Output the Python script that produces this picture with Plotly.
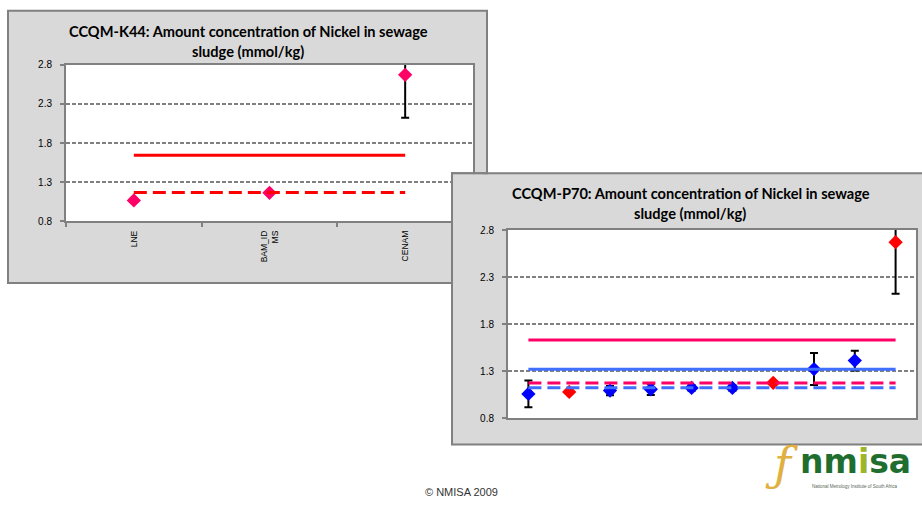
import plotly.graph_objects as go

# ---------------- data ----------------
# CCQM-K44 (left chart)
k44_labs = ["LNE", "BAM_ID<br>MS", "CENAM"]
k44_vals = [1.067, 1.163, 2.671]
k44_unc = [0.0, 0.0, 0.55]
k44_mean = 1.642
k44_median = 1.167

# CCQM-P70 (right chart)
p70_x = [1, 2, 3, 4, 5, 6, 7, 8, 9, 10]
p70_vals = [1.057, 1.078, 1.092, 1.105, 1.12, 1.12, 1.175, 1.321, 1.411, 2.672]
p70_unc = [0.143, 0.02, 0.05, 0.06, 0.03, 0.03, 0.015, 0.17, 0.105, 0.55]
p70_is_k44 = [False, True, False, False, False, False, True, False, False, True]
p70_k44_mean = 1.63
p70_k44_median = 1.172
p70_mean = 1.318
p70_median = 1.123

y_ticks = [0.8, 1.3, 1.8, 2.3, 2.8]

W, H = 922, 517
def px(x):
    return x / W
def py(y):
    return 1 - y / H

GRAY_BOX = "#D9D9D9"
BORDER = "#808080"
PINK = "#FF0066"
RED = "#FF0000"
BLUE_M = "#0000FF"
BLUE_L = "#3F6FFF"

fig = go.Figure()

# ---- left chart traces ----
fig.add_trace(go.Scatter(
    x=k44_labs, y=k44_vals, mode="markers",
    marker=dict(symbol="diamond", size=11, color=PINK),
    error_y=dict(type="data", array=k44_unc, color="black", thickness=2, width=4),
    xaxis="x", yaxis="y", showlegend=False, cliponaxis=True))
fig.add_trace(go.Scatter(
    x=[k44_labs[0], k44_labs[-1]], y=[k44_mean, k44_mean], mode="lines",
    line=dict(color=RED, width=3), xaxis="x", yaxis="y", showlegend=False))
fig.add_trace(go.Scatter(
    x=[k44_labs[0], k44_labs[-1]], y=[k44_median, k44_median], mode="lines",
    line=dict(color=RED, width=3, dash="13px,6px"), xaxis="x", yaxis="y", showlegend=False))

# ---- right chart traces ----
for flag, col in [(False, BLUE_M), (True, RED)]:
    xs = [x for x, f in zip(p70_x, p70_is_k44) if f == flag]
    ys = [v for v, f in zip(p70_vals, p70_is_k44) if f == flag]
    us = [u for u, f in zip(p70_unc, p70_is_k44) if f == flag]
    fig.add_trace(go.Scatter(
        x=xs, y=ys, mode="markers",
        marker=dict(symbol="diamond", size=11, color=col),
        error_y=dict(type="data", array=us, color="black", thickness=2, width=4),
        xaxis="x2", yaxis="y2", showlegend=False))

x_ends = [p70_x[0], p70_x[-1]]
fig.add_trace(go.Scatter(x=x_ends, y=[p70_k44_mean] * 2, mode="lines",
                         line=dict(color=PINK, width=3), xaxis="x2", yaxis="y2", showlegend=False))
fig.add_trace(go.Scatter(x=x_ends, y=[p70_mean] * 2, mode="lines",
                         line=dict(color=BLUE_L, width=3), xaxis="x2", yaxis="y2", showlegend=False))
fig.add_trace(go.Scatter(x=x_ends, y=[p70_k44_median] * 2, mode="lines",
                         line=dict(color=PINK, width=3, dash="13px,6px"), xaxis="x2", yaxis="y2", showlegend=False))
fig.add_trace(go.Scatter(x=x_ends, y=[p70_median] * 2, mode="lines",
                         line=dict(color=BLUE_L, width=3, dash="13px,6px"), xaxis="x2", yaxis="y2", showlegend=False))

tickfont = dict(family="Liberation Sans, Arial", size=10, color="black")
yaxis_common = dict(
    range=[0.8, 2.8], tickvals=y_ticks, ticktext=[f"{v:.1f}" for v in y_ticks],
    showgrid=True, gridcolor=BORDER, gridwidth=1.5, griddash="4px,2px",
    showline=True, linecolor=BORDER, linewidth=2, mirror=True,
    ticks="outside", ticklen=4, tickcolor=BORDER, tickwidth=1.5,
    ticklabelstandoff=6, zeroline=False, tickfont=tickfont, fixedrange=True)

L_x0, L_x1, L_y0, L_y1 = 66, 473, 61, 221
R_x0, R_x1, R_y0, R_y1 = 508, 916, 230, 422

fig.update_layout(
    width=W, height=H, autosize=False,
    margin=dict(l=0, r=0, t=0, b=0),
    paper_bgcolor="white", plot_bgcolor="white",
    xaxis=dict(domain=[px(L_x0), px(L_x1)], type="category",
               categoryorder="array", categoryarray=k44_labs,
               range=[-0.5, len(k44_labs) - 0.5],
               tickson="boundaries", ticks="outside", ticklen=4, tickcolor=BORDER, tickwidth=1.5,
               showline=True, linecolor=BORDER, linewidth=2, mirror=True,
               showgrid=False, tickangle=-90, ticklabelstandoff=4,
               tickfont=dict(family="Liberation Sans, Arial", size=8.5, color="black"),
               anchor="y", fixedrange=True),
    yaxis=dict(domain=[py(L_y1), py(L_y0)], anchor="x", **yaxis_common),
    xaxis2=dict(domain=[px(R_x0), px(R_x1)], range=[0.5, 10.5],
                showticklabels=False, ticks="", showgrid=False,
                showline=True, linecolor=BORDER, linewidth=2, mirror=True,
                zeroline=False, anchor="y2", fixedrange=True),
    yaxis2=dict(domain=[py(R_y1), py(R_y0)], anchor="x2", **yaxis_common),
)

shapes = []
# left chart box + plot area
shapes.append(dict(type="rect", xref="paper", yref="paper", layer="below",
                   x0=px(8), x1=px(487), y0=py(284), y1=py(6),
                   fillcolor=GRAY_BOX, line=dict(color=BORDER, width=2)))
shapes.append(dict(type="rect", xref="paper", yref="paper", layer="below",
                   x0=px(L_x0), x1=px(L_x1), y0=py(L_y1), y1=py(L_y0),
                   fillcolor="white", line=dict(width=0)))
# right chart box + plot area
shapes.append(dict(type="rect", xref="paper", yref="paper", layer="below",
                   x0=px(452), x1=px(930), y0=py(449), y1=py(172),
                   fillcolor=GRAY_BOX, line=dict(color=BORDER, width=2)))
shapes.append(dict(type="rect", xref="paper", yref="paper", layer="below",
                   x0=px(R_x0), x1=px(R_x1), y0=py(R_y1), y1=py(R_y0),
                   fillcolor="white", line=dict(width=0)))
# patch: right box sits in front of the left chart's plot area
shapes.append(dict(type="rect", xref="paper", yref="paper", layer="above",
                   x0=px(453), x1=px(482), y0=py(228), y1=py(173),
                   fillcolor=GRAY_BOX, line=dict(width=0)))
shapes.append(dict(type="line", xref="paper", yref="paper", layer="above",
                   x0=px(452), x1=px(488), y0=py(172), y1=py(172),
                   line=dict(color=BORDER, width=2)))
shapes.append(dict(type="line", xref="paper", yref="paper", layer="above",
                   x0=px(452), x1=px(452), y0=py(230), y1=py(171),
                   line=dict(color=BORDER, width=2)))
fig.update_layout(shapes=shapes)

title_font = dict(family="Lato, Carlito, Calibri, sans-serif", size=14.6, color="black")
ann = []
def add_text(x, y, text, font, xanchor="center"):
    ann.append(dict(x=px(x), y=py(y), xref="paper", yref="paper", text=text,
                    showarrow=False, font=font, xanchor=xanchor, yanchor="middle"))

add_text(248, 27, "<b>CCQM-K44: Amount concentration of Nickel in sewage</b>", title_font)
add_text(248, 47, "<b>sludge (mmol/kg)</b>", title_font)
add_text(691, 193, "<b>CCQM-P70: Amount concentration of Nickel in sewage</b>", title_font)
add_text(690, 213, "<b>sludge (mmol/kg)</b>", title_font)
add_text(461, 498, "© NMISA 2009", dict(family="Liberation Sans, Arial", size=11, color="#333333"))

# logo
add_text(781, 469, "<i>ƒ</i>", dict(family="DejaVu Serif", size=46, color="#E0B040"))
add_text(855, 466,
         "<b><span style='color:#1F6E30'>nm</span><span style='color:#9DB52A'>i</span>"
         "<span style='color:#1F6E30'>sa</span></b>",
         dict(family="DejaVu Sans", size=33, color="#1F6E30"))
add_text(855, 492, "National Metrology Institute of South Africa",
         dict(family="Liberation Sans, Arial", size=4.5, color="#556655"))

fig.update_layout(annotations=ann)

fig.write_html("out.html")
